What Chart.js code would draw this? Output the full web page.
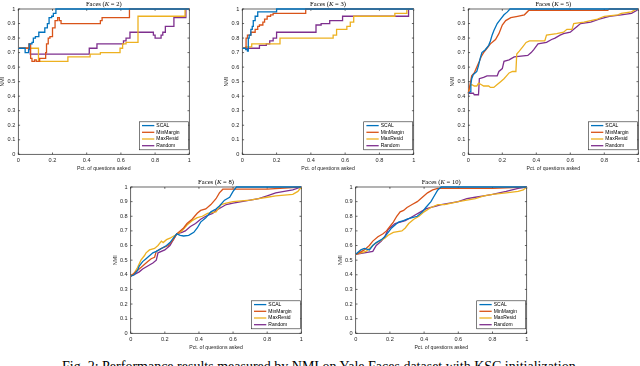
<!DOCTYPE html>
<html><head><meta charset="utf-8">
<script src="https://cdn.jsdelivr.net/npm/chart.js@4/dist/chart.umd.min.js"></script>
<style>
html,body{margin:0;padding:0;background:#fff;width:640px;height:366px;overflow:hidden;position:relative}
canvas.pc{position:absolute}
#cap{position:absolute;left:62px;top:360.3px;font-family:"Liberation Serif",serif;font-size:14px;line-height:14px;white-space:nowrap;color:#000}
</style></head><body>
<div id="cap">Fig. 2: Performance results measured by NMI on Yale Faces dataset with KSC initialization.</div>
<script>
// ---------- DATA ----------
const seriesNames = ['SCAL', 'MinMargin', 'MaxResid', 'Random'];
const panelK = ['2', '3', '5', '8', '10'];
const xTickValues = [0, 0.2, 0.4, 0.6, 0.8, 1];
const yTickValues = [0, 0.1, 0.2, 0.3, 0.4, 0.5, 0.6, 0.7, 0.8, 0.9, 1];
const xAxisLabel = 'Pct. of questions asked';
const yAxisLabel = 'NMI';

// K = 2  (step points: value y from x onward)
const k2_scal = [[0,0.73],[0.04,0.70],[0.06,0.72],[0.064,0.76],[0.08,0.77],[0.088,0.80],[0.10,0.81],[0.12,0.84],[0.155,0.87],[0.17,0.90],[0.18,0.94],[0.195,0.95],[0.205,0.97],[0.22,1.0],[1,1.0]];
const k2_minmargin = [[0,0.73],[0.062,0.76],[0.072,0.66],[0.08,0.64],[0.095,0.65],[0.105,0.64],[0.125,0.66],[0.16,0.70],[0.165,0.76],[0.175,0.80],[0.185,0.81],[0.2,0.87],[0.215,0.92],[0.23,0.94],[0.24,0.92],[0.25,0.90],[0.48,0.92],[0.49,0.94],[0.65,1.0],[1,1.0]];
const k2_maxresid = [[0,0.73],[0.118,0.64],[0.29,0.67],[0.42,0.69],[0.48,0.70],[0.595,0.73],[0.61,0.76],[0.63,0.77],[0.70,0.95],[0.975,1.0],[1,1.0]];
const k2_random = [[0,0.73],[0.07,0.69],[0.415,0.73],[0.46,0.76],[0.615,0.78],[0.63,0.80],[0.653,0.84],[0.79,0.82],[0.80,0.80],[0.835,0.82],[0.845,0.84],[0.86,0.88],[0.91,0.94],[0.98,1.0],[1,1.0]];

// K = 3
const k3_scal = [[0,0.73],[0.02,0.72],[0.03,0.71],[0.035,0.80],[0.04,0.82],[0.05,0.86],[0.058,0.88],[0.064,0.92],[0.075,0.95],[0.09,0.98],[0.2,1.0],[1,1.0]];
const k3_minmargin = [[0,0.73],[0.022,0.80],[0.03,0.82],[0.05,0.84],[0.075,0.86],[0.09,0.88],[0.10,0.89],[0.12,0.91],[0.13,0.93],[0.145,0.95],[0.165,0.96],[0.18,0.97],[0.37,1.0],[1,1.0]];
const k3_maxresid = [[0,0.73],[0.02,0.74],[0.055,0.76],[0.22,0.80],[0.53,0.82],[0.55,0.86],[0.61,0.88],[0.63,0.91],[0.65,0.95],[0.89,0.97],[0.96,1.0],[1,1.0]];
const k3_random = [[0,0.73],[0.10,0.75],[0.14,0.76],[0.16,0.78],[0.18,0.80],[0.20,0.84],[0.43,0.89],[0.46,0.90],[0.51,0.92],[0.585,0.95],[0.97,1.0],[1,1.0]];

// K = 5
const k5_scal = [[0,0.42],[0.01,0.43],[0.015,0.48],[0.02,0.52],[0.03,0.55],[0.05,0.57],[0.06,0.61],[0.07,0.66],[0.08,0.70],[0.10,0.72],[0.12,0.75],[0.13,0.78],[0.14,0.82],[0.15,0.85],[0.17,0.90],[0.19,0.93],[0.21,0.96],[0.23,0.98],[0.245,1.0],[1,1.0]];
const k5_minmargin = [[0,0.42],[0.01,0.48],[0.02,0.54],[0.035,0.56],[0.05,0.60],[0.065,0.64],[0.075,0.67],[0.09,0.70],[0.11,0.73],[0.13,0.76],[0.16,0.79],[0.18,0.83],[0.20,0.89],[0.22,0.92],[0.25,0.94],[0.29,0.95],[0.33,0.96],[0.355,0.99],[0.82,0.99],[0.83,1.0],[1,1.0]];
const k5_maxresid = [[0,0.42],[0.01,0.47],[0.02,0.48],[0.035,0.47],[0.05,0.47],[0.06,0.49],[0.075,0.48],[0.09,0.47],[0.12,0.47],[0.13,0.46],[0.15,0.46],[0.17,0.48],[0.19,0.50],[0.21,0.52],[0.225,0.54],[0.24,0.56],[0.26,0.57],[0.28,0.57],[0.285,0.69],[0.30,0.71],[0.32,0.74],[0.34,0.77],[0.36,0.78],[0.45,0.78],[0.46,0.82],[0.52,0.83],[0.56,0.84],[0.58,0.86],[0.61,0.86],[0.62,0.90],[0.68,0.91],[0.72,0.92],[0.76,0.93],[0.80,0.95],[0.88,0.96],[0.90,0.97],[0.96,0.98],[0.99,1.0],[1,1.0]];
const k5_random = [[0,0.42],[0.03,0.42],[0.035,0.41],[0.06,0.41],[0.065,0.52],[0.09,0.53],[0.11,0.54],[0.17,0.54],[0.18,0.57],[0.2,0.59],[0.21,0.64],[0.24,0.65],[0.27,0.67],[0.35,0.68],[0.37,0.70],[0.385,0.72],[0.41,0.76],[0.46,0.77],[0.49,0.79],[0.51,0.80],[0.54,0.82],[0.56,0.83],[0.6,0.84],[0.62,0.86],[0.64,0.88],[0.66,0.90],[0.72,0.91],[0.77,0.93],[0.83,0.95],[0.9,0.96],[0.96,0.97],[0.99,0.99],[1,1.0]];

// K = 8
const k8_scal = [[0,0.39],[0.02,0.40],[0.04,0.43],[0.05,0.46],[0.07,0.49],[0.09,0.51],[0.11,0.53],[0.13,0.55],[0.15,0.56],[0.18,0.58],[0.21,0.60],[0.23,0.62],[0.25,0.65],[0.27,0.68],[0.29,0.67],[0.31,0.665],[0.34,0.67],[0.37,0.69],[0.39,0.72],[0.41,0.76],[0.44,0.79],[0.47,0.83],[0.50,0.85],[0.52,0.87],[0.55,0.91],[0.58,0.93],[0.60,0.97],[0.62,1.0],[1,1.0]];
const k8_minmargin = [[0,0.39],[0.03,0.42],[0.06,0.45],[0.08,0.47],[0.10,0.49],[0.12,0.51],[0.14,0.52],[0.15,0.56],[0.18,0.58],[0.22,0.60],[0.25,0.64],[0.27,0.68],[0.31,0.72],[0.33,0.75],[0.36,0.78],[0.39,0.82],[0.41,0.84],[0.44,0.85],[0.47,0.88],[0.50,0.92],[0.52,0.96],[0.54,0.985],[0.80,0.985],[1,1.0]];
const k8_maxresid = [[0,0.39],[0.02,0.41],[0.04,0.45],[0.06,0.50],[0.08,0.53],[0.09,0.55],[0.11,0.57],[0.14,0.58],[0.16,0.60],[0.18,0.63],[0.19,0.62],[0.21,0.64],[0.23,0.65],[0.26,0.67],[0.30,0.70],[0.33,0.74],[0.36,0.77],[0.39,0.79],[0.42,0.80],[0.45,0.82],[0.50,0.83],[0.53,0.88],[0.56,0.89],[0.60,0.90],[0.70,0.91],[0.75,0.92],[0.80,0.93],[0.85,0.94],[0.90,0.945],[0.95,0.95],[0.98,0.97],[1,1.0]];
const k8_random = [[0,0.39],[0.02,0.40],[0.05,0.42],[0.07,0.44],[0.10,0.46],[0.13,0.48],[0.15,0.50],[0.16,0.55],[0.20,0.57],[0.23,0.60],[0.25,0.64],[0.27,0.68],[0.30,0.69],[0.32,0.70],[0.35,0.73],[0.38,0.75],[0.41,0.78],[0.44,0.80],[0.48,0.82],[0.50,0.84],[0.53,0.86],[0.56,0.88],[0.60,0.89],[0.65,0.90],[0.70,0.91],[0.75,0.92],[0.80,0.94],[0.85,0.96],[0.90,0.97],[0.95,0.98],[1,1.0]];

// K = 10
const k10_scal = [[0,0.54],[0.03,0.57],[0.05,0.58],[0.08,0.57],[0.10,0.60],[0.12,0.62],[0.15,0.64],[0.17,0.66],[0.19,0.69],[0.21,0.72],[0.23,0.74],[0.25,0.76],[0.28,0.77],[0.30,0.78],[0.33,0.79],[0.36,0.80],[0.39,0.83],[0.41,0.86],[0.44,0.90],[0.46,0.94],[0.48,0.98],[0.50,1.0],[1,1.0]];
const k10_minmargin = [[0,0.54],[0.02,0.55],[0.05,0.57],[0.08,0.60],[0.10,0.63],[0.13,0.66],[0.16,0.68],[0.18,0.70],[0.20,0.73],[0.22,0.76],[0.24,0.80],[0.26,0.83],[0.28,0.84],[0.30,0.86],[0.33,0.88],[0.36,0.90],[0.39,0.93],[0.42,0.96],[0.45,0.98],[0.48,0.99],[0.80,0.99],[1,1.0]];
const k10_maxresid = [[0,0.54],[0.03,0.55],[0.06,0.56],[0.09,0.59],[0.11,0.61],[0.14,0.63],[0.17,0.65],[0.19,0.67],[0.22,0.69],[0.27,0.70],[0.29,0.72],[0.31,0.75],[0.34,0.78],[0.37,0.80],[0.40,0.83],[0.44,0.86],[0.48,0.88],[0.52,0.88],[0.56,0.89],[0.60,0.90],[0.65,0.91],[0.70,0.92],[0.75,0.94],[0.80,0.95],[0.88,0.96],[0.95,0.97],[0.98,0.98],[1,1.0]];
const k10_random = [[0,0.54],[0.05,0.55],[0.10,0.56],[0.12,0.60],[0.15,0.63],[0.17,0.66],[0.19,0.71],[0.21,0.73],[0.23,0.75],[0.26,0.76],[0.29,0.77],[0.32,0.79],[0.35,0.81],[0.38,0.83],[0.41,0.85],[0.44,0.86],[0.47,0.87],[0.50,0.88],[0.55,0.89],[0.60,0.90],[0.65,0.92],[0.70,0.93],[0.75,0.94],[0.80,0.95],[0.88,0.97],[0.95,0.99],[1,1.0]];

const panelSeries = [
  [k2_scal, k2_minmargin, k2_maxresid, k2_random],
  [k3_scal, k3_minmargin, k3_maxresid, k3_random],
  [k5_scal, k5_minmargin, k5_maxresid, k5_random],
  [k8_scal, k8_minmargin, k8_maxresid, k8_random],
  [k10_scal, k10_minmargin, k10_maxresid, k10_random]
];

// ---------- LAYOUT / STYLE ----------
const seriesColors = ['#0072BD', '#D95319', '#EDB120', '#7E2F8E'];
const panelBoxes = [
  {L: 18.3, R: 189.3, T: 9, B: 154.3, stepped: 'before'},
  {L: 242.3, R: 413.7, T: 9, B: 154.3, stepped: 'before'},
  {L: 468.3, R: 638.3, T: 9, B: 154.3, stepped: false},
  {L: 130.7, R: 301.3, T: 187, B: 333.3, stepped: false},
  {L: 355.7, R: 526.7, T: 187, B: 333.3, stepped: false}
];
const AX = '#262626';
const tickFont = {family: '"Liberation Sans", Arial, sans-serif', size: 5.6, lineHeight: 1.2};
const labFont = {family: '"Liberation Sans", Arial, sans-serif', size: 5.2, lineHeight: 1.2};

const framePlugin = {
  id: 'frame',
  beforeDatasetsDraw(chart) {
    const {ctx, chartArea: a, scales: {x, y}} = chart;
    ctx.save();
    ctx.strokeStyle = AX; ctx.lineWidth = 0.7;
    ctx.strokeRect(a.left, a.top, a.right - a.left, a.bottom - a.top);
    ctx.beginPath();
    const tl = 1.8;
    x.ticks.forEach(t => { const p = x.getPixelForValue(t.value);
      ctx.moveTo(p, a.bottom); ctx.lineTo(p, a.bottom - tl);
      ctx.moveTo(p, a.top); ctx.lineTo(p, a.top + tl); });
    y.ticks.forEach(t => { const p = y.getPixelForValue(t.value);
      ctx.moveTo(a.left, p); ctx.lineTo(a.left + tl, p);
      ctx.moveTo(a.right, p); ctx.lineTo(a.right - tl, p); });
    ctx.stroke();
    ctx.restore();
  }
};

const titlePlugin = {
  id: 'ptitle',
  afterDraw(chart, args, opts) {
    const {ctx, chartArea: a} = chart;
    const parts = [
      {t: 'Faces (', f: '6.6px "Liberation Serif", serif'},
      {t: 'K', f: 'italic 6.6px "Liberation Serif", serif'},
      {t: ' = ' + opts.k + ')', f: '6.6px "Liberation Serif", serif'}
    ];
    ctx.save();
    let total = 0;
    parts.forEach(p => { ctx.font = p.f; p.w = ctx.measureText(p.t).width; total += p.w; });
    let x = (a.left + a.right) / 2 - total / 2;
    const y = a.top - 5;
    ctx.fillStyle = '#000'; ctx.textBaseline = 'middle'; ctx.textAlign = 'left';
    parts.forEach(p => { ctx.font = p.f; ctx.fillText(p.t, x, y); x += p.w; });
    ctx.restore();
  }
};

const legendPlugin = {
  id: 'mlegend',
  afterDraw(chart) {
    const {ctx, chartArea: a} = chart;
    const w = 49, h = 28;
    const bx = a.right - 1 - w, by = a.bottom - 4.5 - h;
    ctx.save();
    ctx.fillStyle = '#fff'; ctx.fillRect(bx, by, w, h);
    ctx.strokeStyle = AX; ctx.lineWidth = 0.6; ctx.strokeRect(bx, by, w, h);
    ctx.font = '5px "Liberation Sans", Arial, sans-serif';
    ctx.textBaseline = 'middle'; ctx.textAlign = 'left';
    chart.data.datasets.forEach((ds, i) => {
      const cy = by + 3.8 + i * 6.7;
      ctx.strokeStyle = ds.borderColor; ctx.lineWidth = 1.3;
      ctx.beginPath(); ctx.moveTo(bx + 2.7, cy); ctx.lineTo(bx + 15, cy); ctx.stroke();
      ctx.fillStyle = '#000';
      ctx.fillText(ds.label, bx + 17, cy);
    });
    ctx.restore();
  }
};

function makePanel(i) {
  const g = panelBoxes[i];
  const cl = Math.round(g.L) - 20, ct = Math.round(g.T) - 9;
  const cr = Math.ceil(g.R + 4), cb = Math.ceil(g.B + 18);
  const W = g.L - cl, H = cb - g.B;
  const cv = document.createElement('canvas');
  cv.className = 'pc';
  cv.width = cr - cl; cv.height = cb - ct;
  cv.style.left = cl + 'px'; cv.style.top = ct + 'px';
  cv.style.width = (cr - cl) + 'px'; cv.style.height = (cb - ct) + 'px';
  document.body.appendChild(cv);
  const lh = labFont.size * labFont.lineHeight;
  new Chart(cv, {
    type: 'line',
    data: {
      datasets: panelSeries[i].map((d, j) => ({
        label: seriesNames[j], data: d, borderColor: seriesColors[j],
        backgroundColor: seriesColors[j], borderWidth: 1.3, pointRadius: 0,
        tension: 0, stepped: g.stepped, clip: false, fill: false
      }))
    },
    options: {
      responsive: false, animation: false, devicePixelRatio: 1,
      layout: {padding: {left: 0, top: g.T - ct, right: cr - g.R, bottom: 0}},
      plugins: {legend: {display: false}, tooltip: {enabled: false}, title: {display: false},
        ptitle: {k: panelK[i]}},
      scales: {
        x: {
          type: 'linear', min: 0, max: 1,
          afterBuildTicks: s => { s.ticks = xTickValues.map(v => ({value: v})); },
          afterFit: s => { s.height = H; },
          grid: {display: false, drawTicks: false}, border: {display: false},
          ticks: {font: tickFont, color: AX, padding: 2.5, maxRotation: 0, autoSkip: false,
            callback: v => String(v)},
          title: {display: true, text: xAxisLabel, font: labFont, color: AX,
            padding: {top: 0, bottom: Math.max(0, H - 14 - lh / 2)}}
        },
        y: {
          type: 'linear', min: 0, max: 1,
          afterBuildTicks: s => { s.ticks = yTickValues.map(v => ({value: v})); },
          afterFit: s => { s.width = W; },
          grid: {display: false, drawTicks: false}, border: {display: false},
          ticks: {font: tickFont, color: AX, padding: 3, autoSkip: false,
            callback: v => String(v)},
          title: {display: true, text: yAxisLabel, font: labFont, color: AX,
            padding: {top: Math.max(0, W - 15.5 - lh / 2), bottom: 0}}
        }
      }
    },
    plugins: [framePlugin, titlePlugin, legendPlugin]
  });
}
for (let i = 0; i < panelBoxes.length; i++) makePanel(i);
</script>
</body></html>
